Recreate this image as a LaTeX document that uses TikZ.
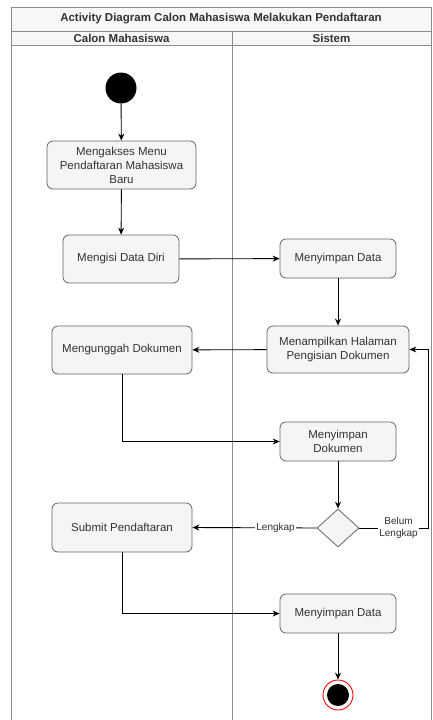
\documentclass[tikz,border=0pt]{standalone}
\usepackage{fontspec}
\setmainfont{Liberation Sans}
\usetikzlibrary{arrows.meta,shapes.geometric}
\definecolor{boxfill}{HTML}{F5F5F5}
\definecolor{boxline}{HTML}{666666}
\definecolor{txt}{HTML}{333333}
\definecolor{lane}{HTML}{8C8C8C}
\definecolor{hdr}{HTML}{F7F7F7}
\begin{document}
\begin{tikzpicture}[x=1pt,y=-1pt,
  act/.style={draw=boxline, fill=boxfill, rounded corners=6pt, line width=0.8pt,
    text=txt, font=\fontsize{11.5}{14}\selectfont, align=center, inner sep=0pt},
  flow/.style={draw=black, line width=0.9pt, -{Stealth[length=7pt,width=6pt]}},
  lbl/.style={fill=white, text=txt, font=\fontsize{10}{12}\selectfont, inner sep=1pt, align=center},
  hd/.style={font=\fontsize{11.5}{13}\selectfont\bfseries, text=black!80},
  lanel/.style={draw=lane, line width=0.8pt}]
\useasboundingbox (0,0) rectangle (432,720);
% swimlane frame
\fill[hdr] (11,7) rectangle (431,45);
\draw[lanel] (11,720) -- (11,7) -- (431,7) -- (431,720);
\draw[lanel] (11,31) -- (431,31);
\draw[lanel] (11,45) -- (431,45);
\draw[lanel] (232,31) -- (232,720);
\node[hd] (title) at (221,19) {Activity Diagram Calon Mahasiswa Melakukan Pendaftaran};
\node[hd] (h1) at (121.5,38) {Calon Mahasiswa};
\node[hd] (h2) at (331.5,38) {Sistem};
% nodes
\node[circle, fill=black, minimum size=31pt, inner sep=0pt] (start) at (121,88) {};
\node[act, minimum width=149pt, minimum height=48pt] (b1) at (121.5,165) {Mengakses Menu\\Pendaftaran Mahasiswa\\Baru};
\node[act, minimum width=116pt, minimum height=48pt] (b2) at (121,259) {Mengisi Data Diri};
\node[act, minimum width=116pt, minimum height=39pt] (b3) at (338,258.5) {Menyimpan Data};
\node[act, minimum width=142pt, minimum height=47pt] (b4) at (338,349.5) {Menampilkan Halaman\\Pengisian Dokumen};
\node[act, minimum width=140pt, minimum height=48pt] (b5) at (122,350) {Mengunggah Dokumen};
\node[act, minimum width=116pt, minimum height=39pt] (b6) at (338,441.5) {Menyimpan\\Dokumen};
\node[diamond, draw=boxline, fill=boxfill, line width=0.8pt, minimum width=42pt, minimum height=38pt, inner sep=0pt, aspect=1.1] (d) at (338,528) {};
\node[act, minimum width=140pt, minimum height=49pt] (b7) at (122,527.5) {Submit Pendaftaran};
\node[act, minimum width=116pt, minimum height=39pt] (b8) at (338,613.5) {Menyimpan Data};
\node[circle, draw=red, line width=0.9pt, fill=white, minimum size=30pt, inner sep=0pt] (endo) at (338,695) {};
\node[circle, fill=black, minimum size=22pt, inner sep=0pt] (endi) at (338,695) {};
\coordinate (loopr) at (428,528);
% edges
\draw[flow] (start) -- (b1);
\draw[flow] (b1) -- (b2);
\draw[flow] (b2) -- (b3);
\draw[flow] (b3) -- (b4);
\draw[flow] (b4) -- (b5);
\draw[flow] (b5.south) |- (b6.west);
\draw[flow] (b6) -- (d);
\draw[flow] (d.west) -- node[lbl, pos=0.33] (l1) {Lengkap} (b7.east);
\draw[flow] (d.east) -- node[lbl, pos=0.57] (l2) {Belum\\Lengkap} (loopr) |- (b4.east);
\draw[flow] (b7.south) |- (b8.west);
\draw[flow] (b8) -- (endo);
\end{tikzpicture}
\end{document}
